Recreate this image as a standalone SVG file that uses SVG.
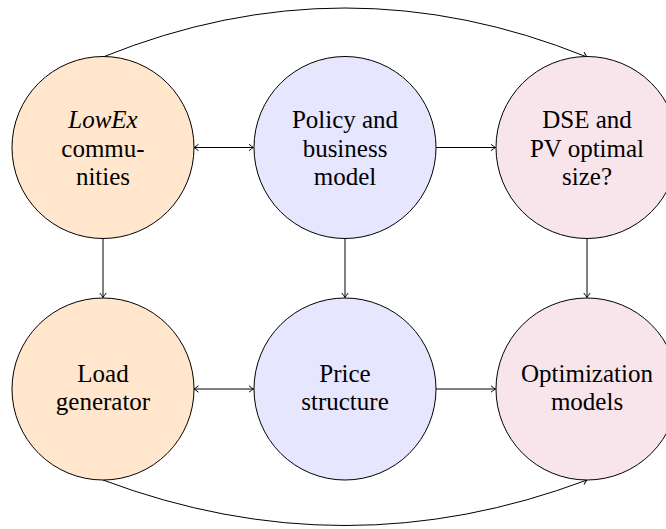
<svg xmlns="http://www.w3.org/2000/svg" width="666" height="529" viewBox="0 0 666 529">
<defs>
<marker id="arr" viewBox="-6 -5 8 10" markerWidth="8" markerHeight="10" refX="0" refY="0" orient="auto-start-reverse" markerUnits="userSpaceOnUse">
<path d="M-4.5,-3.2 Q-1.5,-0.8 0,0 Q-1.5,0.8 -4.5,3.2" fill="none" stroke="#000" stroke-width="1"/>
</marker>
</defs>
<g id="connectors" fill="none" stroke="#000" stroke-width="1">
<path d="M103,57 Q345,-41 587,57" marker-end="url(#arr)"/>
<path d="M103,480 Q345,571 587,480" marker-end="url(#arr)"/>
<path d="M194,147.5 L253.5,147.5" marker-start="url(#arr)" marker-end="url(#arr)"/>
<path d="M436,147.5 L495.5,147.5" marker-end="url(#arr)"/>
<path d="M194,389 L253.5,389" marker-start="url(#arr)" marker-end="url(#arr)"/>
<path d="M436,389 L495.5,389" marker-end="url(#arr)"/>
<path d="M103,238.5 L103,297.5" marker-end="url(#arr)"/>
<path d="M345,238.5 L345,297.5" marker-end="url(#arr)"/>
<path d="M587,238.5 L587,297.5" marker-end="url(#arr)"/>
</g>
<g id="lowex">
<circle cx="103" cy="147.5" r="91" fill="#FFE6CC" stroke="#000"/>
<text x="103" y="128" font-family="Liberation Serif" font-size="25" text-anchor="middle" font-style="italic">LowEx</text>
<text x="103" y="156.5" font-family="Liberation Serif" font-size="25" text-anchor="middle">commu-</text>
<text x="103" y="185" font-family="Liberation Serif" font-size="25" text-anchor="middle">nities</text>
</g>
<g id="policy">
<circle cx="345" cy="147.5" r="91" fill="#E6E6FF" stroke="#000"/>
<text x="345" y="128" font-family="Liberation Serif" font-size="25" text-anchor="middle">Policy and</text>
<text x="345" y="156.5" font-family="Liberation Serif" font-size="25" text-anchor="middle">business</text>
<text x="345" y="185" font-family="Liberation Serif" font-size="25" text-anchor="middle">model</text>
</g>
<g id="dse">
<circle cx="587" cy="147.5" r="91" fill="#F8E5EC" stroke="#000"/>
<text x="587" y="128" font-family="Liberation Serif" font-size="25" text-anchor="middle">DSE and</text>
<text x="587" y="156.5" font-family="Liberation Serif" font-size="25" text-anchor="middle">PV optimal</text>
<text x="587" y="185" font-family="Liberation Serif" font-size="25" text-anchor="middle">size?</text>
</g>
<g id="load">
<circle cx="103" cy="389" r="91" fill="#FFE6CC" stroke="#000"/>
<text x="103" y="381.5" font-family="Liberation Serif" font-size="25" text-anchor="middle">Load</text>
<text x="103" y="410" font-family="Liberation Serif" font-size="25" text-anchor="middle">generator</text>
</g>
<g id="price">
<circle cx="345" cy="389" r="91" fill="#E6E6FF" stroke="#000"/>
<text x="345" y="381.5" font-family="Liberation Serif" font-size="25" text-anchor="middle">Price</text>
<text x="345" y="410" font-family="Liberation Serif" font-size="25" text-anchor="middle">structure</text>
</g>
<g id="optim">
<circle cx="587" cy="389" r="91" fill="#F8E5EC" stroke="#000"/>
<text x="587" y="381.5" font-family="Liberation Serif" font-size="25" text-anchor="middle">Optimization</text>
<text x="587" y="410" font-family="Liberation Serif" font-size="25" text-anchor="middle">models</text>
</g>
</svg>
